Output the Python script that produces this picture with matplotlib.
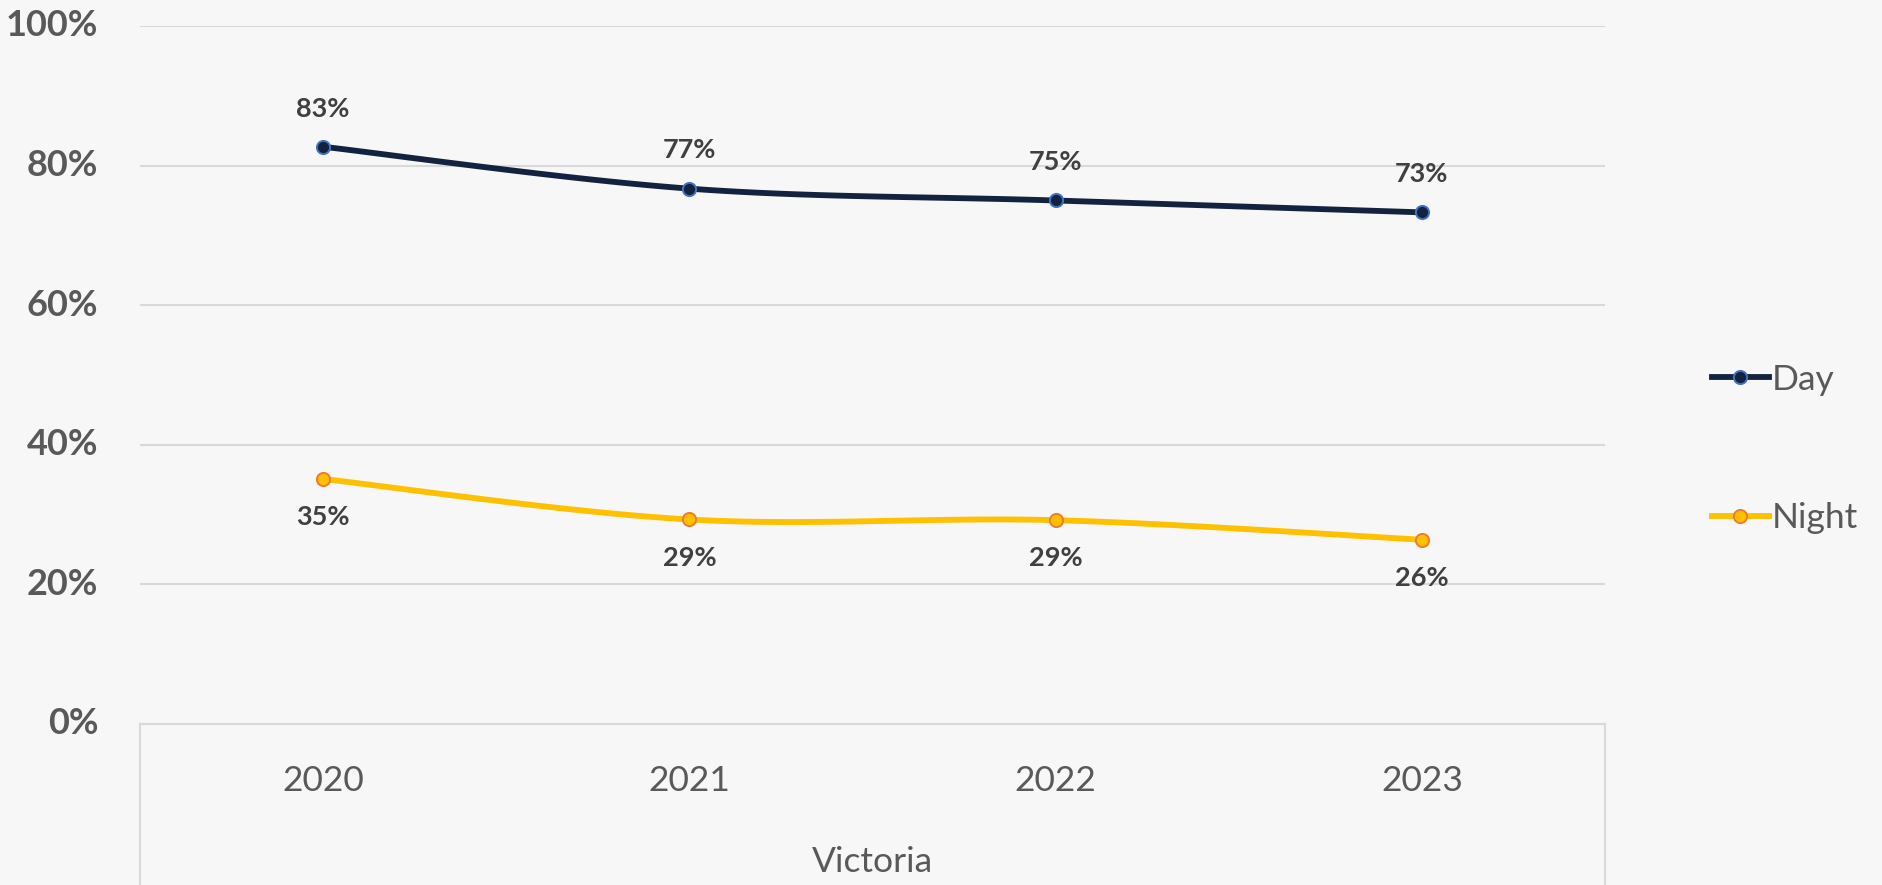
import numpy as np
import matplotlib
matplotlib.use("Agg")
import matplotlib.pyplot as plt
from matplotlib.lines import Line2D
import matplotlib.transforms as mtransforms

years = ["2020", "2021", "2022", "2023"]
group_label = "Victoria"
day = [0.827, 0.767, 0.750, 0.733]
night = [0.351, 0.293, 0.292, 0.264]
day_labels = ["83%", "77%", "75%", "73%"]
night_labels = ["35%", "29%", "29%", "26%"]
yticks = [0, 0.2, 0.4, 0.6, 0.8, 1.0]
ytick_labels = ["0%", "20%", "40%", "60%", "80%", "100%"]

plt.rcParams['font.family'] = ['Lato', 'DejaVu Sans']

def smooth(xs, ys, n=40):
    xs = np.asarray(xs, float); ys = np.asarray(ys, float)
    px = np.concatenate([[xs[0]], xs, [xs[-1]]])
    py = np.concatenate([[ys[0]], ys, [ys[-1]]])
    outx, outy = [], []
    for i in range(1, len(px) - 2):
        t = np.linspace(0, 1, n)
        p0, p1, p2, p3 = (np.array([px[j], py[j]]) for j in (i-1, i, i+1, i+2))
        k = 1/6
        c1 = p1 + (p2 - p0) * k
        c2 = p2 - (p3 - p1) * k
        b = ((1-t)**3)[:, None]*p1 + (3*(1-t)**2*t)[:, None]*c1 + (3*(1-t)*t**2)[:, None]*c2 + (t**3)[:, None]*p2
        outx.extend(b[:, 0]); outy.extend(b[:, 1])
    return np.array(outx), np.array(outy)

bg = "#F7F7F7"
fig = plt.figure(figsize=(18.82, 8.85), dpi=100, facecolor=bg)
ax = fig.add_axes([140/1882, (885-724)/885, (1605-140)/1882, (724-26)/885], facecolor=bg)

x = np.arange(len(years))
day_c, day_edge = "#13233F", "#4472C4"
night_c, night_edge = "#FFC000", "#ED7D31"
LW, MS, MEW = 4.2, 9.5, 1.4

sx, sy = smooth(x, day)
ax.plot(sx, sy, color=day_c, lw=LW, solid_capstyle='round', zorder=3)
ax.plot(x, day, ls='none', marker='o', ms=MS, mfc=day_c, mec=day_edge, mew=MEW, zorder=4)
sx, sy = smooth(x, night)
ax.plot(sx, sy, color=night_c, lw=LW, solid_capstyle='round', zorder=3)
ax.plot(x, night, ls='none', marker='o', ms=MS, mfc=night_c, mec=night_edge, mew=MEW, zorder=4)

for xi, v, lab in zip(x, day, day_labels):
    ax.annotate(lab, (xi, v), xytext=(0, 27.5), textcoords='offset points', ha='center', va='center',
                fontsize=19.5, fontweight='bold', color='#404040')
for xi, v, lab in zip(x, night, night_labels):
    ax.annotate(lab, (xi, v), xytext=(0, -27.5), textcoords='offset points', ha='center', va='center',
                fontsize=19.5, fontweight='bold', color='#404040')

ax.set_xlim(-0.5, len(years) - 0.5)
ax.set_ylim(0, 1.0)
ax.set_yticks(yticks)
ax.set_yticklabels(ytick_labels, fontsize=26, fontweight='bold', color='#595959')
ax.set_xticks([])
ax.tick_params(axis='y', length=0, pad=30)
for lab in ax.get_yticklabels():
    lab.set_verticalalignment('center')
    lab.set_horizontalalignment('right')
ax.grid(axis='y', color='#D9D9D9', lw=1.5, zorder=0)
ax.set_axisbelow(True)
for s in ax.spines.values():
    s.set_visible(False)

trans = mtransforms.blended_transform_factory(ax.transData, ax.transAxes)
drop = -161/698
for xv in (-0.5, len(years) - 0.5):
    ax.add_line(Line2D([xv, xv], [0, drop], transform=trans, color='#D9D9D9', lw=1.5, clip_on=False))
ax.add_line(Line2D([-0.5, len(years) - 0.5], [0, 0], transform=trans, color='#D9D9D9', lw=1.5, clip_on=False))
for xi, yr in zip(x, years):
    ax.text(xi, -57/698, yr, transform=trans, ha='center', va='center', fontsize=25.5, color='#595959')
ax.text((len(years)-1)/2, -138/698, group_label, transform=trans, ha='center', va='center',
        fontsize=25.5, color='#595959')

handles = [Line2D([], [], color=day_c, lw=LW, marker='o', ms=MS, mfc=day_c, mec=day_edge, mew=MEW),
           Line2D([], [], color=night_c, lw=LW, marker='o', ms=MS, mfc=night_c, mec=night_edge, mew=MEW)]
leg = fig.legend(handles, ["Day", "Night"], loc='center left', bbox_to_anchor=(1712/1882, (885-449)/885),
                 frameon=False, fontsize=25.5, handlelength=1.6, handletextpad=0.1, labelspacing=3.0,
                 borderpad=0, borderaxespad=0, labelcolor='#595959')

fig.savefig("out.png", dpi=100, facecolor=bg)
